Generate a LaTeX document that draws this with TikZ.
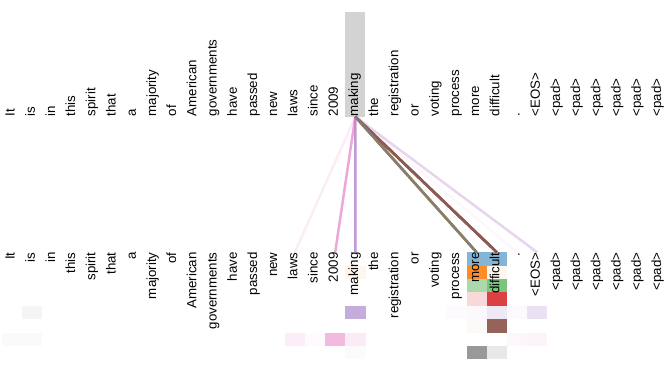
\documentclass[tikz,border=0pt]{standalone}
\usepackage{fontspec}
\setmainfont{Liberation Sans}
\definecolor{hA}{HTML}{1F77B4}
\definecolor{hB}{HTML}{FF7F0E}
\definecolor{hC}{HTML}{2CA02C}
\definecolor{hD}{HTML}{D62728}
\definecolor{hE}{HTML}{9467BD}
\definecolor{hF}{HTML}{8C564B}
\definecolor{hG}{HTML}{E377C2}
\definecolor{hH}{HTML}{7F7F7F}
\definecolor{hlgray}{HTML}{D3D3D3}
\begin{document}
\begin{tikzpicture}[x=1pt,y=-1pt,
  word/.style={rotate=90, inner sep=0pt, font=\fontsize{13.3}{15}\selectfont},
  attn/.style={line width=2.5pt}]
\useasboundingbox (0,0) rectangle (667,375);
% highlight of the query word
\node[fill=hlgray, inner sep=0pt, minimum width=20.2pt, minimum height=105pt, anchor=south] (hl) at (355.3,116.7) {};
% attention cells (one row per head)
\foreach \c/\r/\col/\a in {
  24/1/hA/0.55, 25/1/hA/0.55,
  18/2/hB/0.07, 24/2/hB/0.9, 25/2/hB/0.06,
  24/3/hC/0.4, 25/3/hC/0.62,
  24/4/hD/0.18, 25/4/hD/0.88,
  2/5/hH/0.08, 18/5/hE/0.55, 23/5/hE/0.03, 24/5/hE/0.04, 25/5/hE/0.15, 26/5/hE/0.03, 27/5/hE/0.2,
  24/6/hF/0.03, 25/6/hF/0.92,
  1/7/hH/0.04, 2/7/hH/0.04, 15/7/hG/0.12, 16/7/hG/0.04, 17/7/hG/0.5, 18/7/hG/0.15, 26/7/hG/0.06, 27/7/hG/0.08,
  18/8/hH/0.03, 24/8/hH/0.8, 25/8/hH/0.18}
  \fill[\col, fill opacity=\a] ({12+20.2*(\c-1)-10.1}, {252.3+13.37*(\r-1)}) rectangle +(20.2,13.37);
% words
\foreach \w [count=\i] in {It,is,in,this,spirit,that,a,majority,of,American,governments,have,passed,new,laws,since,2009,making,the,registration,or,voting,process,more,difficult,.,<EOS>,<pad>,<pad>,<pad>,<pad>,<pad>,<pad>}{
  \pgfmathsetmacro\x{12+20.2*(\i-1)}
  \node[word, anchor=mid west] (t\i) at (\x,116.5) {\w};
  \node[word, anchor=mid east] (b\i) at (\x,252.3) {\w};
}
% attention lines
\foreach \c/\col/\a in {
  24/hA/0.55, 25/hA/0.55,
  24/hB/0.9,
  24/hC/0.4, 25/hC/0.62,
  24/hD/0.18, 25/hD/0.92,
  18/hE/0.62, 25/hE/0.15, 27/hE/0.22,
  25/hF/0.92,
  15/hG/0.14, 17/hG/0.65, 18/hG/0.15, 26/hG/0.06, 27/hG/0.08,
  24/hH/0.8, 25/hH/0.18}
  \draw[attn, \col, draw opacity=\a] (hl.south) -- (b\c.mid east);
\end{tikzpicture}
\end{document}
